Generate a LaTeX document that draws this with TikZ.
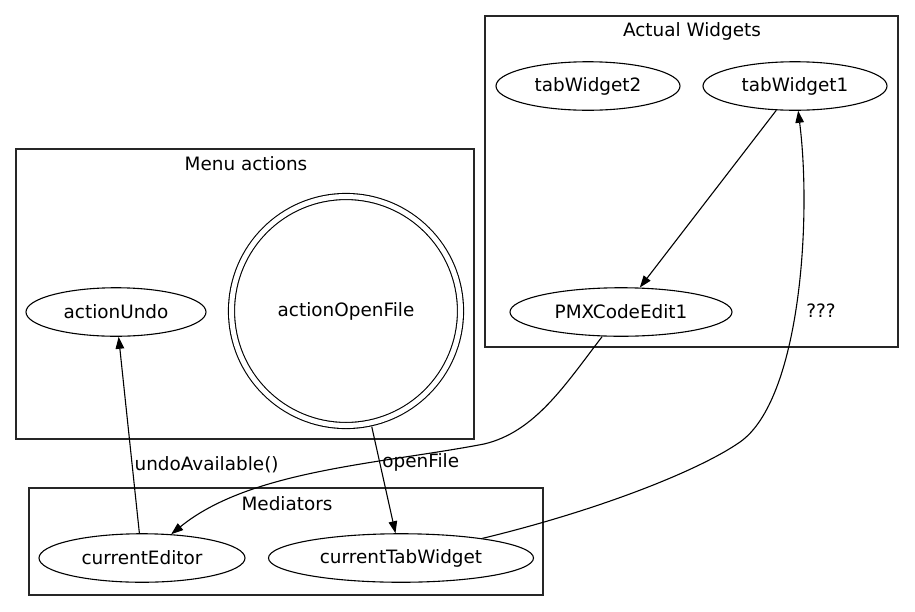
\documentclass[tikz,border=0pt]{standalone}
\usepackage{fontspec}
\setmainfont{DejaVu Sans}
\usetikzlibrary{shapes.geometric, arrows.meta}

\begin{document}
\begin{tikzpicture}[x=1pt,y=1pt,yscale=-1,xscale=1,
    every node/.style={font=\fontsize{18.4}{22}\selectfont},
    obj/.style={draw, ellipse, line width=1.1pt, inner sep=0pt, minimum height=48.5pt},
    group/.style={draw=black!85, line width=1.2pt},
    link/.style={line width=1.1pt, -{Triangle[length=12pt,width=8.5pt]}},
    lbl/.style={inner sep=2pt}]
        \useasboundingbox (0,0) rectangle (915,611);
        % Actual Widgets
        \draw[group] (485,16) rectangle (898,347);
        \node (tAW) at (692,31) {Actual Widgets};
        \node[obj, minimum width=184pt] (tabW2) at (588,86) {tabWidget2};
        \node[obj, minimum width=184pt] (tabW1) at (795,86) {tabWidget1};
        \node[obj, minimum width=222pt] (pmx) at (621,312) {PMXCodeEdit1};
        % Menu actions
        \draw[group] (16,149) rectangle (474,439);
        \node (tMA) at (246,164) {Menu actions};
        \node[obj, minimum width=180pt] (undo) at (116,312) {actionUndo};
        \node[draw, circle, double, double distance=5pt, line width=1.1pt, inner sep=0pt, minimum size=229pt] (openfile) at (346,311) {actionOpenFile};
        % Mediators
        \draw[group] (29,488) rectangle (543,595);
        \node (tMe) at (287,504) {Mediators};
        \node[obj, minimum width=206pt] (cedit) at (142,558) {currentEditor};
        \node[obj, minimum width=265pt] (ctab) at (401,558) {currentTabWidget};
        % connectors
        \draw[link] (tabW1) -- (pmx);
        \draw[link] (cedit) -- (undo) node[lbl, pos=.35, anchor=west] {undoAvailable()};
        \draw[link, shorten <=3.5pt] (openfile) -- (ctab) node[lbl, pos=.36, anchor=west] {openFile};
        \draw[link] (pmx) .. controls (565,385) and (535,432) .. (484,444) .. controls (380,464) and (250,470) .. (cedit);
        \draw[link] (ctab) .. controls (600,510) and (700,470) .. (740,442) .. controls (800,400) and (812,220) .. (tabW1);
        \node (qq) at (821,311) {???};
\end{tikzpicture}
\end{document}
